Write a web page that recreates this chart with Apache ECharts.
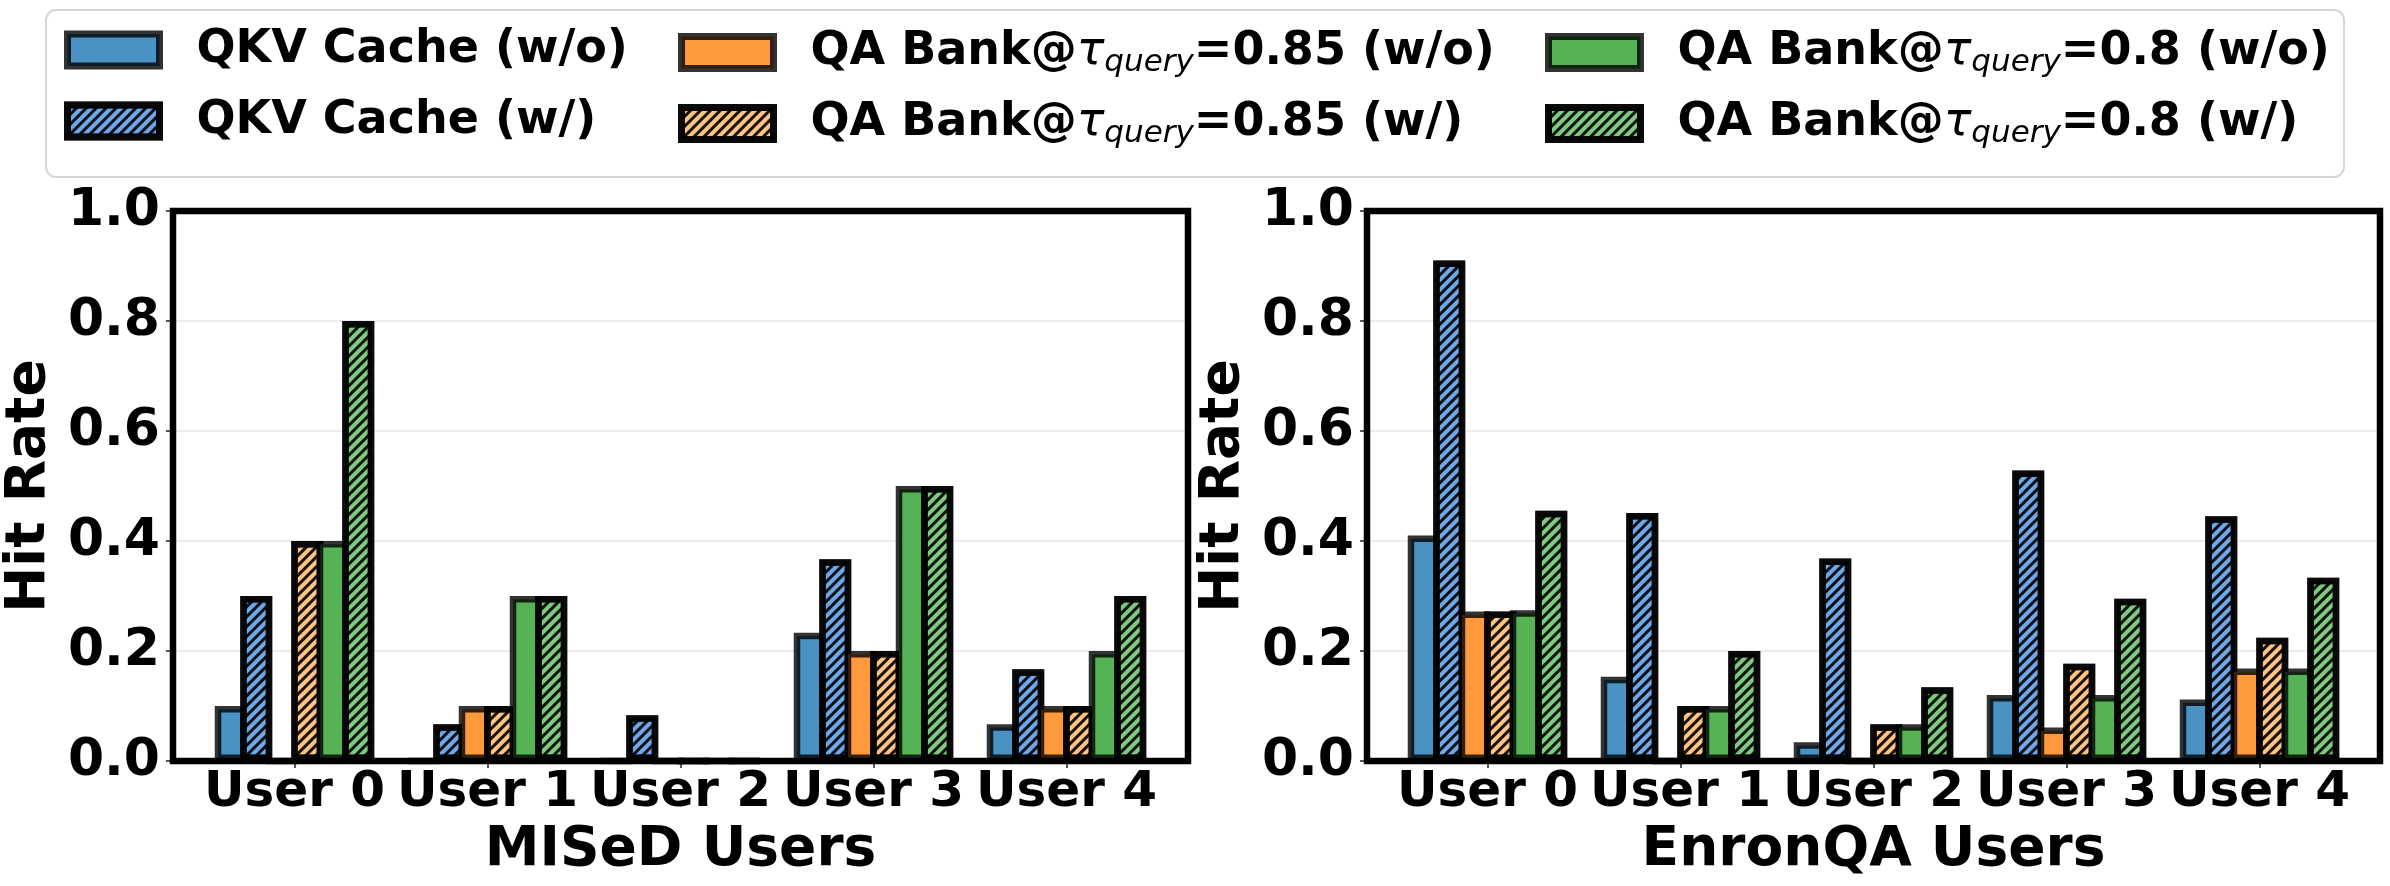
<!DOCTYPE html>
<html>
<head>
<meta charset="utf-8">
<script src="https://cdn.jsdelivr.net/npm/echarts@6/dist/echarts.min.js"></script>
<style>
html,body{margin:0;padding:0;background:#fff;}
#c{width:2390px;height:886px;}
</style>
</head>
<body>
<div id="c"></div>
<script>
// ---------- data ----------
const categories = ['User 0', 'User 1', 'User 2', 'User 3', 'User 4'];
const seriesNames = [
  'QKV Cache (w/o)',
  'QKV Cache (w/)',
  'QA Bank@τ_query=0.85 (w/o)',
  'QA Bank@τ_query=0.85 (w/)',
  'QA Bank@τ_query=0.8 (w/o)',
  'QA Bank@τ_query=0.8 (w/)'
];
const yTicks = [0, 0.2, 0.4, 0.6, 0.8, 1.0];

// MISeD
const misedQkvWo  = [0.10, 0,     0,     0.233, 0.067];
const misedQkvW   = [0.30, 0.067, 0.083, 0.367, 0.167];
const misedQa85Wo = [0,    0.10,  0,     0.20,  0.10];
const misedQa85W  = [0.40, 0.10,  0,     0.20,  0.10];
const misedQa80Wo = [0.40, 0.30,  0,     0.50,  0.20];
const misedQa80W  = [0.80, 0.30,  0,     0.50,  0.30];

// EnronQA
const enronQkvWo  = [0.41,  0.153, 0.034, 0.12,  0.112];
const enronQkvW   = [0.91,  0.451, 0.368, 0.528, 0.445];
const enronQa85Wo = [0.272, 0,     0,     0.061, 0.168];
const enronQa85W  = [0.272, 0.10,  0.067, 0.177, 0.224];
const enronQa80Wo = [0.274, 0.10,  0.067, 0.12,  0.168];
const enronQa80W  = [0.455, 0.20,  0.134, 0.295, 0.333];

// ---------- styles ----------
const FONT = 'DejaVu Sans';
const colors = ['#4a92c4', '#6ea8e8', '#ff9a3c', '#ffc484', '#55b355', '#80ca80'];
const hatched = [false, true, false, true, false, true];
const EDGE = 'rgba(0,0,0,0.8)';
const hatchDecal = {
  symbol: 'rect',
  symbolSize: 1,
  color: 'rgba(0,0,0,0.9)',
  dashArrayX: [1, 0],
  dashArrayY: [2.5, 3.5],
  rotation: -Math.PI / 4
};

function makeSeries(dataList, xi, yi) {
  return dataList.map((d, i) => ({
    name: seriesNames[i],
    type: 'bar',
    xAxisIndex: xi,
    yAxisIndex: yi,
    data: d,
    barWidth: 32,
    barGap: '-20.3%',
    itemStyle: Object.assign({
      color: colors[i],
      borderColor: EDGE,
      borderWidth: 6.5
    }, hatched[i] ? { decal: hatchDecal } : {}),
    emphasis: { disabled: true },
    z: 3
  }));
}

const rich = {
  b: { fontFamily: FONT, fontWeight: 'bold', fontSize: 46, color: '#000', lineHeight: 56 },
  t: { fontFamily: FONT, fontStyle: 'italic', fontWeight: 'normal', fontSize: 46, color: '#000', lineHeight: 56 },
  s: { fontFamily: FONT, fontStyle: 'italic', fontWeight: 'normal', fontSize: 31, color: '#000', lineHeight: 56, padding: [20, 0, 0, 0] }
};
function fmt(name) {
  const idx = name.indexOf('τ_query');
  if (idx < 0) return '{b|' + name + '}';
  return '{b|' + name.slice(0, idx) + '}{t|τ}{s|query}{b|' + name.slice(idx + 7) + '}';
}
function legendItem(name, left, top) {
  return {
    data: [name], left: left, top: top, orient: 'horizontal',
    icon: 'rect', itemWidth: 92, itemHeight: 32, padding: 0,
    selectedMode: false,
    itemStyle: { borderColor: EDGE, borderWidth: 7 },
    formatter: fmt,
    textStyle: { padding: [0, 0, 0, 32], rich: rich }
  };
}

const yTickLabel = { fontFamily: FONT, fontWeight: 'bold', fontSize: 52, color: '#000' };
const xTickLabel = { fontFamily: FONT, fontWeight: 'bold', fontSize: 50, color: '#000' };
const nameStyle = { fontFamily: FONT, fontWeight: 'bold', fontSize: 55, color: '#000' };

function frameGrid(left, width) {
  return { left: left, top: 211, width: width, height: 550, show: true,
           borderColor: '#000', borderWidth: 6.5, backgroundColor: 'transparent', z: 10 };
}
function barGrid(left) {
  return { left: left, top: 211, width: 965, height: 550 };
}
function frameYAxis(gi) {
  return {
    type: 'value', gridIndex: gi, min: 0, max: 1, interval: 0.2,
    name: 'Hit Rate', nameLocation: 'middle', nameGap: 116, nameRotate: 90,
    nameTextStyle: nameStyle,
    axisLine: { show: false },
    axisTick: { show: true, length: 7, lineStyle: { color: '#222', width: 1.5 } },
    axisLabel: Object.assign({ margin: 13, formatter: v => yTicks.includes(+v.toFixed(1)) ? v.toFixed(1) : '' }, yTickLabel),
    splitLine: { show: true, lineStyle: { color: '#e6e6e6', width: 1.5 } }
  };
}
function barXAxis(gi, title) {
  return {
    type: 'category', gridIndex: gi, data: categories,
    name: title, nameLocation: 'middle', nameGap: 41, nameTextStyle: nameStyle,
    axisLine: { show: false },
    axisTick: { show: true, alignWithLabel: true, length: 7, lineStyle: { color: '#222', width: 1.5 } },
    axisLabel: Object.assign({ margin: 7, interval: 0 }, xTickLabel),
    splitLine: { show: false }
  };
}

const option = {
  animation: false,
  backgroundColor: '#fff',
  graphic: [{
    type: 'rect', z: 0,
    shape: { x: 46, y: 10, width: 2298, height: 167, r: 10 },
    style: { fill: '#fff', stroke: '#d6d6d6', lineWidth: 2 }
  }],
  legend: [
    legendItem(seriesNames[0], 64, 27),
    legendItem(seriesNames[1], 64, 98),
    legendItem(seriesNames[2], 678, 27),
    legendItem(seriesNames[3], 678, 98),
    legendItem(seriesNames[4], 1545, 27),
    legendItem(seriesNames[5], 1545, 98)
  ],
  grid: [frameGrid(173, 1015), barGrid(198), frameGrid(1367, 1013), barGrid(1391)],
  xAxis: [
    { type: 'value', gridIndex: 0, min: 0, max: 1, show: false },
    barXAxis(1, 'MISeD Users'),
    { type: 'value', gridIndex: 2, min: 0, max: 1, show: false },
    barXAxis(3, 'EnronQA Users')
  ],
  yAxis: [
    frameYAxis(0),
    { type: 'value', gridIndex: 1, min: 0, max: 1, show: false },
    frameYAxis(2),
    { type: 'value', gridIndex: 3, min: 0, max: 1, show: false }
  ],
  series: [].concat(
    makeSeries([misedQkvWo, misedQkvW, misedQa85Wo, misedQa85W, misedQa80Wo, misedQa80W], 1, 1),
    makeSeries([enronQkvWo, enronQkvW, enronQa85Wo, enronQa85W, enronQa80Wo, enronQa80W], 3, 3)
  )
};

const chart = echarts.init(document.getElementById('c'), null, { renderer: 'canvas' });
chart.setOption(option);
</script>
</body>
</html>
